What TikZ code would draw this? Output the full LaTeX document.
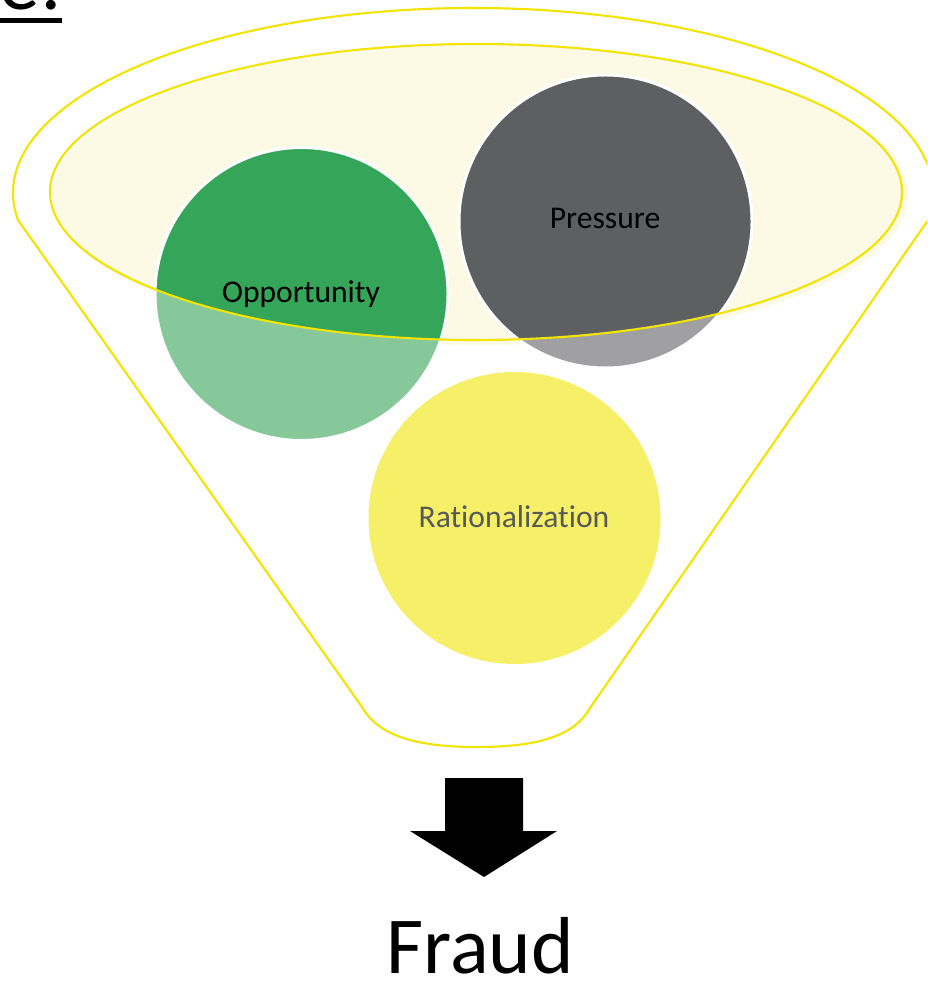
\documentclass[tikz,border=0pt]{standalone}
\usepackage{fontspec}
\setmainfont{Carlito}[Ligatures=NoCommon]
\usepackage{xcolor}
\usetikzlibrary{positioning, calc}
\definecolor{funnelYellow}{RGB}{242,228,0}
\definecolor{rimCream}{RGB}{252,249,229}
\definecolor{oppDark}{RGB}{53,165,90}
\definecolor{oppLight}{RGB}{134,200,154}
\definecolor{prsDark}{RGB}{94,95,97}
\definecolor{prsLight}{RGB}{160,160,162}
\definecolor{ratFill}{RGB}{245,240,103}
\definecolor{ratText}{RGB}{89,89,89}
\tikzset{
    funnelLine/.style={draw=funnelYellow, line width=1.2pt, line join=round},
    ballBorder/.style={draw=white, line width=1.7pt},
    ballText/.style={inner sep=0pt, anchor=base, font=\fontsize{18}{21}\selectfont}
}

\begin{document}
\begin{tikzpicture}[x=0.02cm, y=-0.02cm]
    \useasboundingbox (0,0) rectangle (927,989);
    \clip (0,0) rectangle (927,989);
    % --- heading, cut at the top ---
    \node[anchor=base east, inner sep=0pt, font=\fontsize{46}{55}\selectfont] (head) at (62,10) {e:};
    \fill[black] (0,18) rectangle (62,23);
    % --- funnel ---
    \draw[funnelLine] (18,220) arc[start angle=171.6, end angle=368.4, x radius=460, y radius=185]
        -- (590,708) .. controls (575,735) and (540,747) .. (477,747)
        .. controls (414,747) and (378,735) .. (362,707) -- cycle;
    \fill[rimCream] (480,195) ellipse[x radius=428, y radius=150];
    % --- Opportunity ---
    \fill[oppLight] (301.5,294) circle (146.5);
    \begin{scope}
        \clip (476,192) ellipse[x radius=426, y radius=148];
        \fill[oppDark] (301.5,294) circle (146.5);
    \end{scope}
    \draw[ballBorder] (301.5,294) circle (146.5);
    % --- Pressure ---
    \fill[prsLight] (605.5,221.5) circle (146.5);
    \begin{scope}
        \clip (476,192) ellipse[x radius=426, y radius=148];
        \fill[prsDark] (605.5,221.5) circle (146.5);
    \end{scope}
    \draw[ballBorder] (605.5,221.5) circle (146.5);
    % --- Rationalization ---
    \fill[ratFill] (514.5,518) circle (146);
    \draw[funnelLine] (476,192) ellipse[x radius=426, y radius=148];
    \node[ballText] (opp) at (301,303) {Opportunity};
    \node[ballText] (prs) at (605,229) {Pressure};
    \node[ballText, text=ratText] (rat) at (514,527) {Rationalization};
    % --- result ---
    \fill[black] (445,778) -- (523,778) -- (523,831) -- (557,831) -- (484,877)
        -- (410,831) -- (445,831) -- cycle;
    \node[anchor=base, inner sep=0pt, font=\fontsize{46}{55}\selectfont] (fraud) at (480,973) {Fraud};
\end{tikzpicture}
\end{document}
